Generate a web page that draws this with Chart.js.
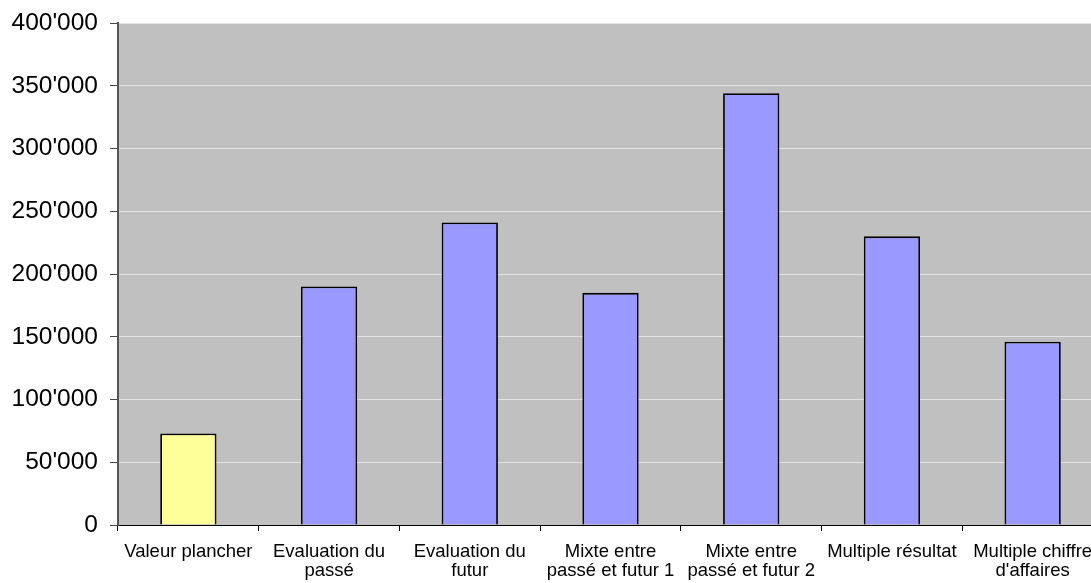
<!DOCTYPE html>
<html>
<head>
<meta charset="utf-8">
<script src="https://cdn.jsdelivr.net/npm/chart.js@4"></script>
<style>
  html, body { margin: 0; padding: 0; background: #fff; overflow: hidden; }
  canvas { display: block; }
</style>
</head>
<body>
<canvas id="graphique" width="1104" height="583"></canvas>
<script>
// Données
const methodes = [
    'Valeur plancher',
    ['Evaluation du', 'passé'],
    ['Evaluation du', 'futur'],
    ['Mixte entre', 'passé et futur 1'],
    ['Mixte entre', 'passé et futur 2'],
    'Multiple résultat',
    ['Multiple chiffre', "d'affaires"]
];
const valeurs = [73000, 190000, 241000, 185000, 344000, 230000, 146000];
const couleurs = ['#FFFF99', '#9999FF', '#9999FF', '#9999FF', '#9999FF', '#9999FF', '#9999FF'];
const yMax = 400000;
const yPas = 50000;

// Fond gris de la zone de tracé
const fondGris = {
    id: 'fondGris',
    beforeDraw(chart) {
        const a = chart.chartArea;
        const c = chart.ctx;
        c.save();
        c.fillStyle = '#C0C0C0';
        c.fillRect(a.left, a.top, a.right - a.left, a.bottom - a.top);
        c.restore();
    }
};

function formatMilliers(v) {
    return String(v).replace(/\B(?=(\d{3})+(?!\d))/g, "'");
}

const ctx = document.getElementById('graphique').getContext('2d');
new Chart(ctx, {
    type: 'bar',
    data: {
        labels: methodes,
        datasets: [{
            data: valeurs,
            backgroundColor: couleurs,
            borderColor: '#000',
            borderWidth: 1.8,
            barPercentage: 0.4,
            categoryPercentage: 1
        }]
    },
    options: {
        responsive: false,
        animation: false,
        layout: { padding: { top: 23, right: 1, left: 0, bottom: 0 } },
        plugins: {
            legend: { display: false },
            tooltip: { enabled: false }
        },
        scales: {
            x: {
                afterFit(scale) {
                    scale.height = 58;
                    scale.paddingLeft = 0;
                    scale.paddingRight = 0;
                },
                grid: {
                    drawOnChartArea: false,
                    drawTicks: true,
                    tickLength: 6,
                    tickColor: '#000',
                    offset: true
                },
                border: { color: '#000', width: 1 },
                ticks: {
                    color: '#000',
                    font: { family: 'Liberation Sans, Arial, sans-serif', size: 18.5, lineHeight: 1.05 },
                    maxRotation: 0,
                    minRotation: 0,
                    autoSkip: false,
                    padding: 11
                }
            },
            y: {
                min: 0,
                max: yMax,
                afterFit(scale) {
                    scale.width = 118;
                    scale.paddingTop = 0;
                    scale.paddingBottom = 0;
                },
                grid: {
                    color: '#E4E4E4',
                    lineWidth: 1,
                    tickLength: 8,
                    tickColor: '#444'
                },
                border: { color: '#555', width: 2 },
                ticks: {
                    stepSize: yPas,
                    color: '#000',
                    padding: 12,
                    font: { family: 'Liberation Sans, Arial, sans-serif', size: 24.5 },
                    callback: (v) => formatMilliers(v)
                }
            }
        }
    },
    plugins: [fondGris]
});
</script>
</body>
</html>
